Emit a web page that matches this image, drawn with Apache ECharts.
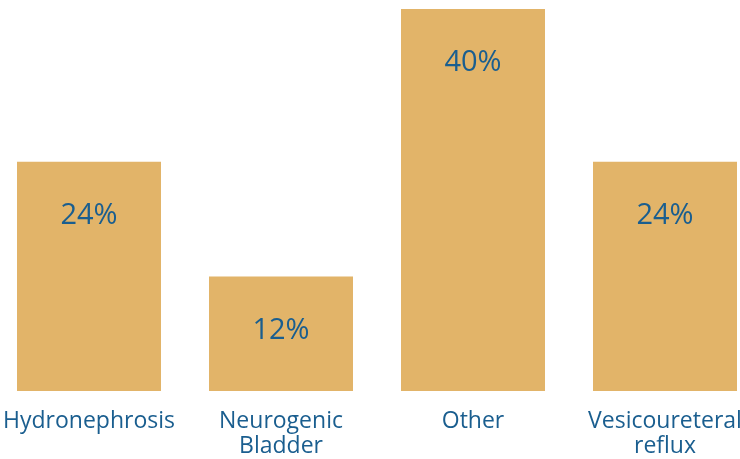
<!DOCTYPE html>
<html>
<head>
<meta charset="utf-8">
<script src="https://cdn.jsdelivr.net/npm/echarts@6/dist/echarts.min.js"></script>
<style>
  html, body { margin: 0; padding: 0; background: #ffffff; overflow: hidden; width: 740px; height: 459px; position: relative; }
  /* the plot is slightly wider than the page so the outer bars run close to the edges */
  #chart { position: absolute; left: -7px; top: 0; width: 768px; height: 459px; }
</style>
</head>
<body>
<div id="chart"></div>
<script>
// Share of cases by diagnosis (%)
const categories = ['Hydronephrosis', 'Neurogenic\nBladder', 'Other', 'Vesicoureteral\nreflux'];
const shares = [24, 12, 40, 24];

const barColor = '#E2B469';
const textColor = '#1A5E8F';
const fontFamily = '"Open Sans", "Noto Sans", sans-serif';

const chart = echarts.init(document.getElementById('chart'), null, { renderer: 'canvas' });
chart.setOption({
  animation: false,
  grid: { left: 0, right: 0, top: 9, bottom: 67, containLabel: false },
  xAxis: {
    type: 'category',
    data: categories,
    axisLine: { show: false },
    axisTick: { show: false },
    axisLabel: {
      color: textColor,
      fontFamily: fontFamily,
      fontSize: 23,
      lineHeight: 25,
      margin: 18,
      interval: 0
    }
  },
  yAxis: {
    type: 'value',
    min: 0,
    max: 40,
    show: false,
    splitLine: { show: false }
  },
  series: [{
    type: 'bar',
    data: shares,
    barWidth: '75%',
    itemStyle: { color: barColor },
    label: {
      show: true,
      position: ['50%', 54],
      align: 'center',
      verticalAlign: 'middle',
      color: textColor,
      fontFamily: fontFamily,
      fontSize: 29,
      formatter: p => p.value + '%'
    }
  }]
});
</script>
</body>
</html>
